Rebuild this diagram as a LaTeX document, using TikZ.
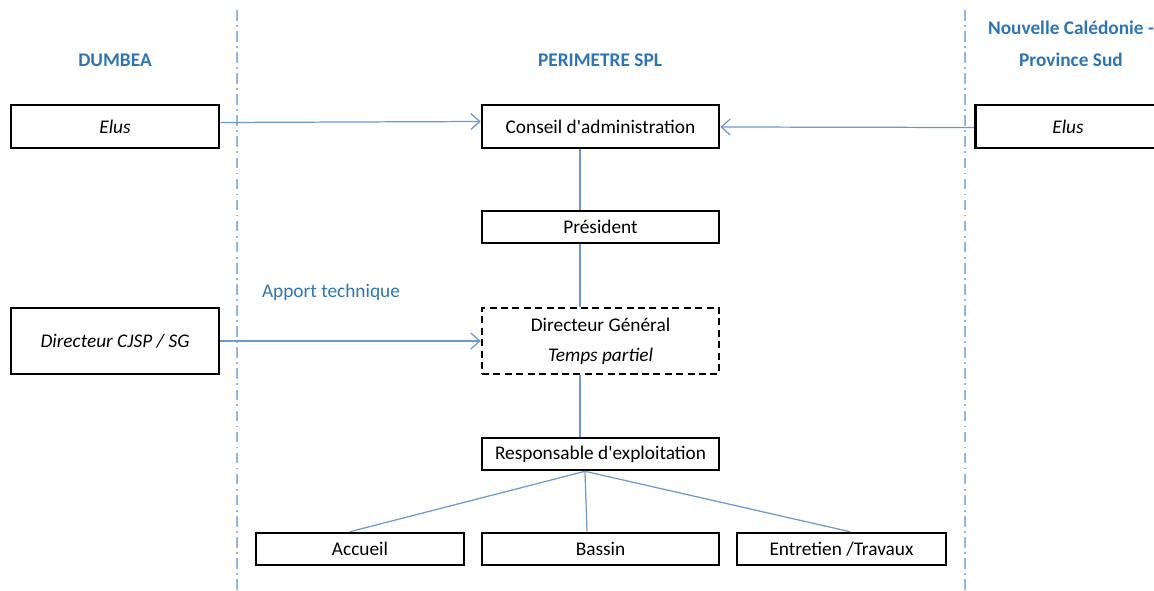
\documentclass[tikz,border=0pt]{standalone}
\usepackage{fontspec}
\setmainfont{Carlito}
\usetikzlibrary{arrows.meta}
\definecolor{titleblue}{HTML}{2E75B6}
\definecolor{linkblue}{HTML}{6A98D2}
\definecolor{sepblue}{HTML}{8DB8E2}

\begin{document}
\begin{tikzpicture}[x=0.02cm, y=-0.02cm, font=\fontsize{11}{13}\selectfont]
	\tikzstyle{box}=[draw=black, line width=1.5pt, fill=white, minimum width=4.74cm, minimum height=0.64cm, text centered, inner sep=2pt]
	\tikzstyle{sidebox}=[box, minimum width=4.16cm, minimum height=0.86cm, font=\fontsize{11}{13}\selectfont\itshape]
	\tikzstyle{head}=[text=titleblue, font=\fontsize{11}{18}\selectfont\bfseries, align=center]
	\tikzstyle{link}=[draw=linkblue, line width=0.7pt]
	\tikzstyle{sep}=[draw=sepblue, line width=0.7pt, dash pattern=on 6pt off 2.5pt on 1pt off 2.5pt]
	
	\clip (0,0) rectangle (1154,591);
	
	% Draw separators
	\draw[sep] (237,10) -- (237,591);
	\draw[sep] (965,10) -- (965,591);
	
	% Draw headers
	\node[head] (dumbea) at (115,60) {DUMBEA};
	\node[head] (perimetre) at (600,60) {PERIMETRE SPL};
	\node[head] (nouvelle) at (1071,44) {Nouvelle Calédonie -\\Province Sud};
	
	% Draw boxes
	\node[sidebox] (eluslft) at (115,126.5) {Elus};
	\node[box, minimum height=0.86cm] (conseil) at (600.5,126.5) {Conseil d\textquotesingle administration};
	\node[sidebox, minimum width=3.7cm] (elusrgt) at (1068,126.5) {Elus};
	\node[box] (president) at (600.5,227) {Président};
	\node[sidebox, minimum height=1.32cm] (dircjsp) at (115,341) {Directeur CJSP / SG};
	\node[box, dash pattern=on 4pt off 2.5pt, minimum height=1.32cm, align=center, font=\fontsize{11}{17}\selectfont] (dirgen) at (600.5,341) {Directeur Général\\\textit{Temps partiel}};
	\node[box] (respexpl) at (600.5,454) {Responsable d\textquotesingle exploitation};
	\node[box, minimum width=4.16cm] (accueil) at (360,549) {Accueil};
	\node[box] (bassin) at (600.5,549) {Bassin};
	\node[box, minimum width=4.18cm] (entretien) at (841.5,549) {Entretien /Travaux};
	
	\node[text=titleblue] (apport) at (331,292) {Apport technique};
	
	% Draw arrows
	\draw[link, -{Straight Barb[length=1.8mm, width=3.2mm]}] ([yshift=0.08cm]eluslft.east) -- ([yshift=0.1cm]conseil.west);
	\draw[link, -{Straight Barb[length=1.8mm, width=3.2mm]}] ([yshift=-0.02cm]elusrgt.west) -- ([yshift=-0.01cm]conseil.east);
	\draw[link, -{Straight Barb[length=1.8mm, width=3.2mm]}] (dircjsp) -- (dirgen);
	
	% Draw lines
	\path[link] ([xshift=-0.41cm]conseil.south) edge ([xshift=-0.41cm]president.north);
	\path[link] ([xshift=-0.41cm]president.south) edge ([xshift=-0.41cm]dirgen.north);
	\path[link] ([xshift=-0.41cm]dirgen.south) edge ([xshift=-0.41cm]respexpl.north);
	\path[link] ([xshift=-0.31cm]respexpl.south) edge ([xshift=-0.2cm]accueil.north);
	\path[link] ([xshift=-0.31cm]respexpl.south) edge ([xshift=-0.27cm]bassin.north);
	\path[link] ([xshift=-0.31cm]respexpl.south) edge ([xshift=0.17cm]entretien.north);
	
\end{tikzpicture}
\end{document}
